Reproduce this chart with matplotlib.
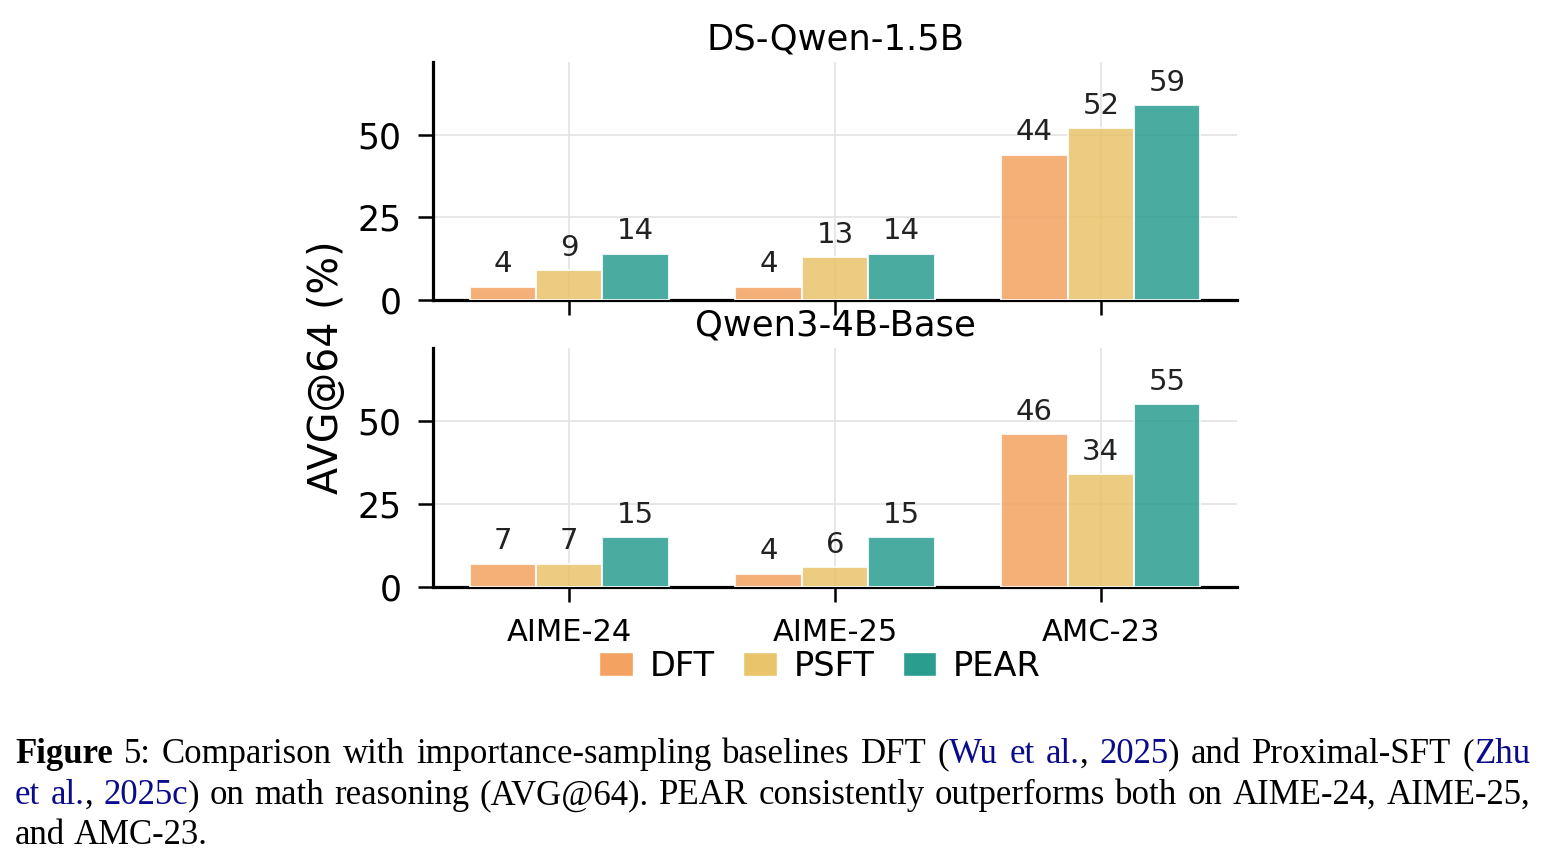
import matplotlib
matplotlib.use("Agg")
import matplotlib.pyplot as plt
import numpy as np
from matplotlib.patches import Patch

# ---------------- data ----------------
benchmarks = ["AIME-24", "AIME-25", "AMC-23"]
methods = ["DFT", "PSFT", "PEAR"]
colors = ["#F4A261", "#E9C46A", "#2A9D8F"]

ds_dft = [4, 4, 44]
ds_psft = [9, 13, 52]
ds_pear = [14, 14, 59]

qw_dft = [7, 4, 46]
qw_psft = [7, 6, 34]
qw_pear = [15, 15, 55]

panel_titles = ["DS-Qwen-1.5B", "Qwen3-4B-Base"]
ylabel = "AVG@64 (%)"
yticks = [0, 25, 50]

W, H = 1548, 866
fig = plt.figure(figsize=(W / 100, H / 100), dpi=100)

def fx(px):
    return px / W

def fy(py):
    return 1 - py / H

ax1 = fig.add_axes([fx(433), fy(300), fx(1237) - fx(433), fy(62) - fy(300)])
ax2 = fig.add_axes([fx(433), fy(587), fx(1237) - fx(433), fy(348) - fy(587)])

panels = [
    (ax1, [ds_dft, ds_psft, ds_pear], panel_titles[0]),
    (ax2, [qw_dft, qw_psft, qw_pear], panel_titles[1]),
]

x = np.arange(len(benchmarks))
w = 0.25
for ax, series, title in panels:
    for i, vals in enumerate(series):
        bars = ax.bar(x + (i - 1) * w, vals, w, color=colors[i], alpha=0.85,
                      edgecolor="white", linewidth=1.5, zorder=3)
        ax.bar_label(bars, labels=[f"{v:.0f}" for v in vals], padding=6,
                     fontsize=21, color="#222222")
    ax.set_xlim(-0.5125, 2.5125)
    ax.set_ylim(0, 72)
    ax.set_yticks(yticks)
    ax.set_xticks(x)
    ax.set_xticklabels(benchmarks)
    ax.grid(True, color="#e3e3e3", linewidth=1.2, zorder=0)
    ax.set_axisbelow(True)
    for s in ["top", "right"]:
        ax.spines[s].set_visible(False)
    for s in ["left", "bottom"]:
        ax.spines[s].set_linewidth(2.3)
        ax.spines[s].set_color("black")
    ax.tick_params(axis="both", length=10.5, width=1.8, pad=12)
    ax.tick_params(axis="y", labelsize=25)
    ax.tick_params(axis="x", labelsize=22)
    ax.set_title(title, fontsize=25.5, pad=9)

ax1.tick_params(axis="x", labelbottom=False)

fig.text(fx(327), fy(367), ylabel, rotation=90, va="center", ha="center", fontsize=28.5)

handles = [Patch(facecolor=c, edgecolor="white") for c in colors]
fig.legend(handles, methods, loc="center", bbox_to_anchor=(fx(820), fy(666)),
           ncol=3, frameon=False, fontsize=24.2, handlelength=1.0, handleheight=0.72,
           handletextpad=0.5, columnspacing=0.85)

# ---------------- caption ----------------
K = "black"
B = "#0a0a8c"
cap_lines = [
    [[("Figure", K, "bold")], [("5:", K, "normal")], [("Comparison", K, "normal")],
     [("with", K, "normal")], [("importance-sampling", K, "normal")], [("baselines", K, "normal")],
     [("DFT", K, "normal")], [("(", K, "normal"), ("Wu", B, "normal")], [("et", B, "normal")],
     [("al.", B, "normal"), (",", K, "normal")], [("2025", B, "normal"), (")", K, "normal")],
     [("and", K, "normal")], [("Proximal-SFT", K, "normal")], [("(", K, "normal"), ("Zhu", B, "normal")]],
    [[("et", B, "normal")], [("al.", B, "normal"), (",", K, "normal")],
     [("2025c", B, "normal"), (")", K, "normal")], [("on", K, "normal")], [("math", K, "normal")],
     [("reasoning", K, "normal")], [("(AVG@64).", K, "normal")], [("PEAR", K, "normal")],
     [("consistently", K, "normal")], [("outperforms", K, "normal")], [("both", K, "normal")],
     [("on", K, "normal")], [("AIME-24,", K, "normal")], [("AIME-25,", K, "normal")]],
    [[("and", K, "normal")], [("AMC-23.", K, "normal")]],
]
justify = [True, True, False]
baselines = [763, 804, 844]
cap_fs = 25
cap_family = ["Liberation Serif", "DejaVu Serif"]
left_px, right_px = 15, 1530

renderer = fig.canvas.get_renderer()
for line, just, yb in zip(cap_lines, justify, baselines):
    words = []
    for word in line:
        pieces = []
        wsum = 0
        for s, c, wt in word:
            t = fig.text(0, fy(yb), s, color=c, fontweight=wt, fontsize=cap_fs,
                         family=cap_family, va="baseline", ha="left")
            wpx = t.get_window_extent(renderer).width
            pieces.append((t, wpx))
            wsum += wpx
        words.append((pieces, wsum))
    total = sum(ws for _, ws in words)
    if just and len(words) > 1:
        gap = (right_px - left_px - total) / (len(words) - 1)
    else:
        gap = 0.25 * cap_fs * 100 / 72
    xp = left_px
    for pieces, ws in words:
        xx = xp
        for t, wpx in pieces:
            t.set_x(fx(xx))
            xx += wpx
        xp += ws + gap

fig.savefig("out.png", dpi=100)
